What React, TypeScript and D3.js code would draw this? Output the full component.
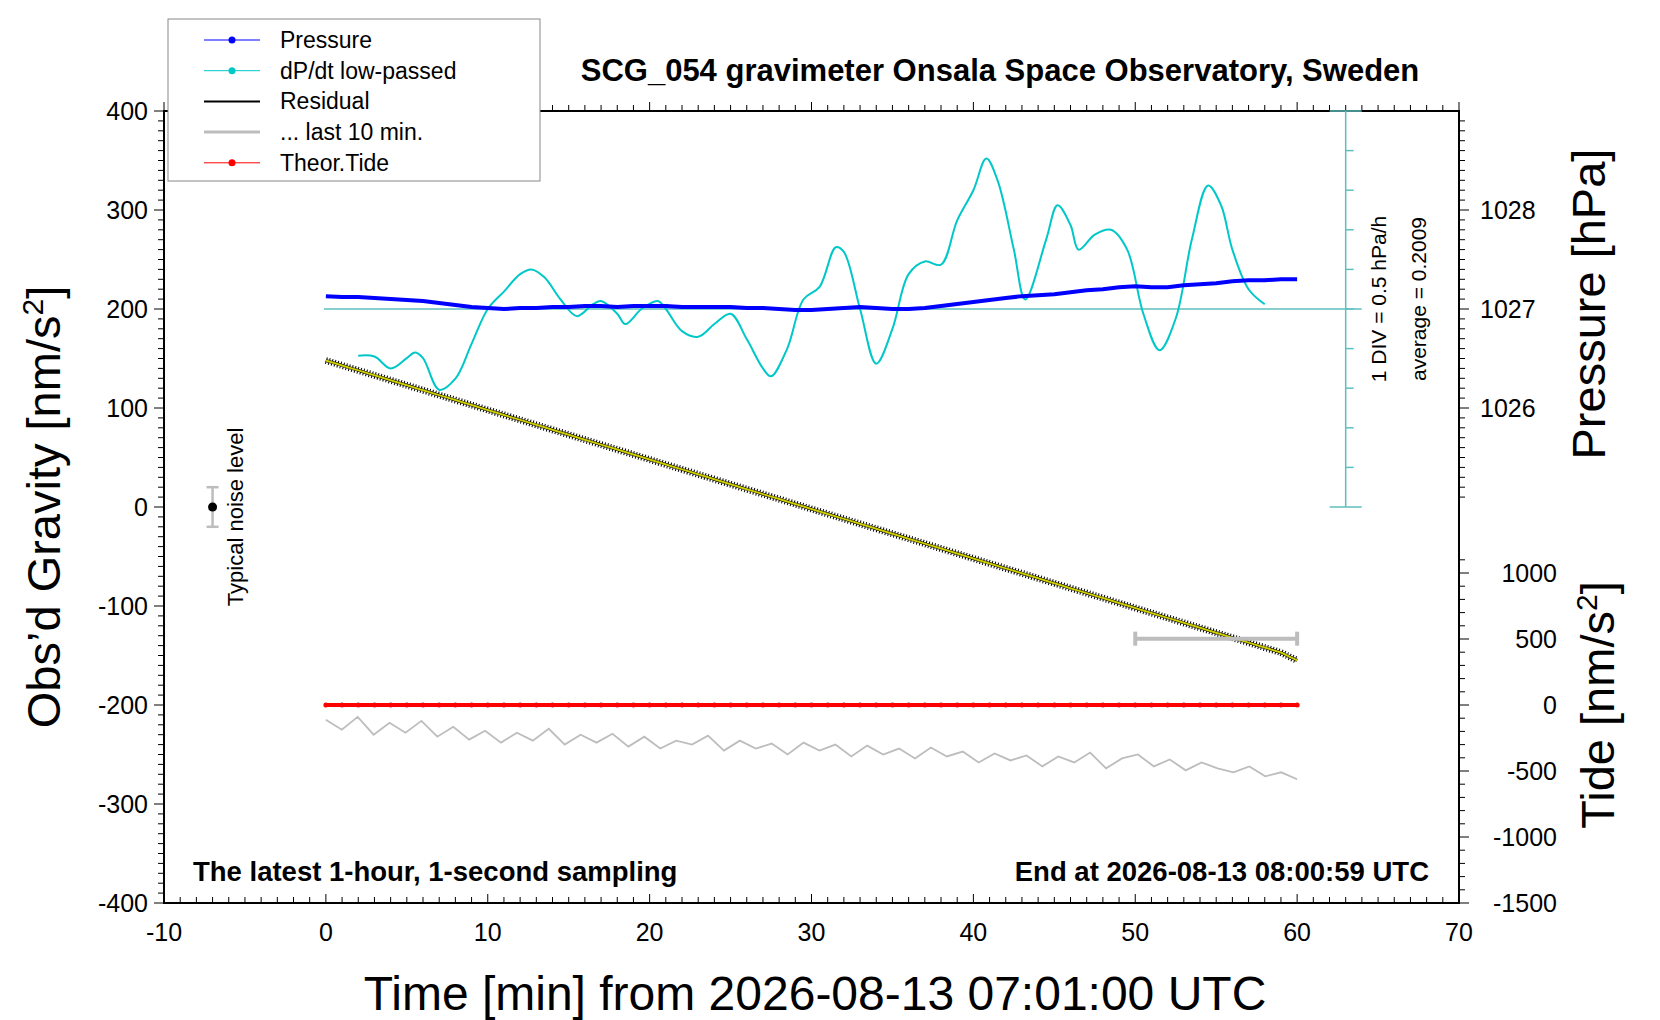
import React from "react";
import * as d3 from "d3";

// --- data ---
const minutes = d3.range(0, 61);
const residual = [148, 143, 138, 133, 128, 123, 118, 113, 108, 103, 98, 93, 88, 83, 78, 73, 68, 63, 58, 53, 48, 43, 38, 33, 28, 23, 18, 13, 8, 3, -2, -7, -12, -17, -22, -27, -32, -37, -42, -47, -52, -57, -62, -67, -72, -77, -82, -87, -92, -97, -102, -107, -112, -117, -122, -127, -132, -137, -142, -147, -155];
const pressure = [1027.13, 1027.12, 1027.12, 1027.11, 1027.1, 1027.09, 1027.08, 1027.06, 1027.04, 1027.02, 1027.01, 1027.0, 1027.01, 1027.01, 1027.02, 1027.02, 1027.03, 1027.03, 1027.02, 1027.03, 1027.03, 1027.03, 1027.02, 1027.02, 1027.02, 1027.02, 1027.01, 1027.01, 1027.0, 1026.99, 1026.99, 1027.0, 1027.01, 1027.02, 1027.01, 1027.0, 1027.0, 1027.01, 1027.03, 1027.05, 1027.07, 1027.09, 1027.11, 1027.13, 1027.14, 1027.15, 1027.17, 1027.19, 1027.2, 1027.22, 1027.23, 1027.22, 1027.22, 1027.24, 1027.25, 1027.26, 1027.28, 1027.29, 1027.29, 1027.3, 1027.3];
const dpdtAverage = 0.2009;
const dpdtTime = [2, 3, 4, 5, 5.5, 6, 7, 8, 9, 10, 11, 12, 12.7, 13.5, 14.5, 15.5, 16.5, 17, 18, 18.5, 19.5, 20.5, 21, 22, 23, 24, 25, 26, 27, 27.5, 28.5, 29.5, 30.5, 31.5, 32, 33, 34, 35, 36, 37, 38, 39, 40, 40.8, 41.5, 42.5, 43.2, 44.5, 45.2, 46, 46.5, 47.5, 48.5, 49.5, 50.5, 51.5, 52.5, 53.5, 54.5, 55.3, 56, 57, 58];
const dpdtDev = [-0.59, -0.6, -0.75, -0.62, -0.55, -0.62, -1.02, -0.88, -0.44, 0, 0.22, 0.44, 0.5, 0.4, 0.12, -0.09, 0.06, 0.1, -0.06, -0.19, 0, 0.1, 0, -0.28, -0.35, -0.19, -0.06, -0.38, -0.75, -0.85, -0.5, 0.12, 0.28, 0.78, 0.72, 0, -0.69, -0.25, 0.44, 0.6, 0.56, 1.12, 1.5, 1.9, 1.62, 0.75, 0.12, 0.88, 1.31, 1.06, 0.75, 0.94, 1.0, 0.75, -0.06, -0.52, -0.12, 0.88, 1.56, 1.31, 0.75, 0.25, 0.06];
const lastTenGrav = [-215, -225, -212, -230, -218, -228, -216, -232, -222, -235, -226, -238, -228, -236, -224, -240, -230, -238, -229, -242, -232, -244, -236, -240, -231, -246, -236, -244, -239, -250, -238, -246, -240, -252, -241, -250, -244, -254, -243, -252, -247, -258, -249, -256, -251, -262, -252, -258, -248, -264, -254, -250, -262, -255, -266, -258, -264, -268, -262, -272, -268, -275];
const lastTenTime = d3.range(0, 61, 60 / (lastTenGrav.length - 1));
const tide = minutes.map(() => 0);
const noiseLevel = { t: -7, g: 0, err: 20 };
const lastTenBar = { from: 50, to: 60, g: -133 };

const xTicks = d3.range(-10, 71, 10);
const gravTicks = d3.range(-400, 401, 100);
const pressTicks = [1026, 1027, 1028];
const tideTicks = [-1500, -1000, -500, 0, 500, 1000];

const W = 1660, H = 1020;
const L = 164, R = 1459, T = 111, B = 903;
const FONT = "Helvetica, 'Liberation Sans', Arial, sans-serif";

export default function App() {
  const x = d3.scaleLinear().domain([-10, 70]).range([L, R]);
  const yG = d3.scaleLinear().domain([-400, 400]).range([B, T]);
  const yP = d3.scaleLinear().domain([1026, 1028]).range([yG(100), yG(300)]);
  const yT = d3.scaleLinear().domain([-1500, 0]).range([B, yG(-200)]);
  const yD = d3.scaleLinear().domain([dpdtAverage - 2.5, dpdtAverage + 2.5]).range([yG(0), yG(400)]);
  const line = d3.line<[number, number]>().x((d) => x(d[0])).y((d) => d[1]);
  const dpX = x(63);

  const resPath = line(minutes.map((m, i) => [m, yG(residual[i])]));
  const lbl = { fontFamily: FONT, fontSize: 25, fill: "#000" };

  return (
    <svg width={W} height={H} style={{ position: "absolute", left: 0, top: 0, background: "#fff" }}>
      <rect x={L} y={T} width={R - L} height={B - T} fill="none" stroke="#000" strokeWidth={2} />
      {d3.range(-10, 71, 1).map((t) => (
        <g key={"xt" + t}>
          <line x1={x(t)} x2={x(t)} y1={B} y2={B - (t % 10 === 0 ? 9 : 6)} stroke="#000" />
          <line x1={x(t)} x2={x(t)} y1={T} y2={T - (t % 10 === 0 ? 9 : 6)} stroke="#000" />
        </g>
      ))}
      {xTicks.map((t) => (
        <text key={"xl" + t} x={x(t)} y={B + 38} textAnchor="middle" {...lbl}>{t}</text>
      ))}
      {d3.range(-400, 401, 10).map((g) => (
        <line key={"gt" + g} x1={L} x2={L - (g % 100 === 0 ? 10 : 6)} y1={yG(g)} y2={yG(g)} stroke="#000" />
      ))}
      {gravTicks.map((g) => (
        <text key={"gl" + g} x={L - 16} y={yG(g) + 9} textAnchor="end" {...lbl}>{g}</text>
      ))}
      {d3.range(1025.1, 1028.95, 0.1).map((p) => {
        const major = Math.abs(p - Math.round(p)) < 0.01;
        return <line key={"pt" + p.toFixed(1)} x1={R} x2={R + (major ? 10 : 6)} y1={yP(p)} y2={yP(p)} stroke="#000" />;
      })}
      {pressTicks.map((p) => (
        <text key={"pl" + p} x={R + 21} y={yP(p) + 9} {...lbl}>{p}</text>
      ))}
      {d3.range(-1500, 1101, 100).map((v) => (
        <line key={"tt" + v} x1={R} x2={R + (v % 500 === 0 ? 10 : 6)} y1={yT(v)} y2={yT(v)} stroke="#000" />
      ))}
      {tideTicks.map((v) => (
        <text key={"tl" + v} x={R + 98} y={yT(v) + 9} textAnchor="end" {...lbl}>{v}</text>
      ))}

      {/* dP/dt scale */}
      <line x1={L + 160} x2={dpX + 16} y1={yD(dpdtAverage)} y2={yD(dpdtAverage)} stroke="#5fbfbf" strokeWidth={1.5} />
      <line x1={dpX} x2={dpX} y1={yD(dpdtAverage - 2.5)} y2={yD(dpdtAverage + 2.5)} stroke="#5fbfbf" strokeWidth={1.5} />
      {d3.range(-5, 6).map((k) => (
        <line key={"dt" + k} x1={Math.abs(k) === 5 ? dpX - 16 : dpX} x2={dpX + (Math.abs(k) === 5 ? 16 : 8)}
          y1={yD(dpdtAverage + k * 0.5)} y2={yD(dpdtAverage + k * 0.5)} stroke="#5fbfbf" strokeWidth={1.5} />
      ))}
      <text transform={`translate(${dpX + 40},${yD(dpdtAverage) - 10}) rotate(-90)`} textAnchor="middle" fontFamily={FONT} fontSize={21}>1 DIV = 0.5 hPa/h</text>
      <text transform={`translate(${dpX + 80},${yD(dpdtAverage) - 10}) rotate(-90)`} textAnchor="middle" fontFamily={FONT} fontSize={21}>average = 0.2009</text>

      {/* tide */}
      <path d={line(minutes.map((m, i) => [m, yT(tide[i])]))!} fill="none" stroke="#ff0000" strokeWidth={4} />
      {minutes.map((m, i) => <circle key={"td" + m} cx={x(m)} cy={yT(tide[i])} r={2.5} fill="#ff0000" />)}

      <path d={line(lastTenTime.map((t, i) => [t, yG(lastTenGrav[i])]))!} fill="none" stroke="#bdbdbd" strokeWidth={1.8} />

      {/* residual */}
      <path d={resPath!} fill="none" stroke="#000" strokeWidth={7} strokeDasharray="1 2" />
      <path d={resPath!} fill="none" stroke="#000" strokeWidth={3} />
      <path d={resPath!} fill="none" stroke="#cccc00" strokeWidth={2} />

      <path d={d3.line<number>().x((t) => x(t)).y((t, i) => yD(dpdtAverage + dpdtDev[i])).curve(d3.curveCatmullRom)(dpdtTime)!}
        fill="none" stroke="#00c8c8" strokeWidth={2} />

      <path d={line(minutes.map((m, i) => [m, yP(pressure[i])]))!} fill="none" stroke="#0000ff" strokeWidth={4} />

      <g stroke="#bdbdbd" strokeWidth={4}>
        <line x1={x(lastTenBar.from)} x2={x(lastTenBar.to)} y1={yG(lastTenBar.g)} y2={yG(lastTenBar.g)} />
        <line x1={x(lastTenBar.from)} x2={x(lastTenBar.from)} y1={yG(lastTenBar.g) - 7} y2={yG(lastTenBar.g) + 7} />
        <line x1={x(lastTenBar.to)} x2={x(lastTenBar.to)} y1={yG(lastTenBar.g) - 7} y2={yG(lastTenBar.g) + 7} />
      </g>

      <g stroke="#bdbdbd" strokeWidth={2.5}>
        <line x1={x(noiseLevel.t)} x2={x(noiseLevel.t)} y1={yG(noiseLevel.g - noiseLevel.err)} y2={yG(noiseLevel.g + noiseLevel.err)} />
        <line x1={x(noiseLevel.t) - 6} x2={x(noiseLevel.t) + 6} y1={yG(noiseLevel.err)} y2={yG(noiseLevel.err)} />
        <line x1={x(noiseLevel.t) - 6} x2={x(noiseLevel.t) + 6} y1={yG(-noiseLevel.err)} y2={yG(-noiseLevel.err)} />
      </g>
      <circle cx={x(noiseLevel.t)} cy={yG(noiseLevel.g)} r={4.5} fill="#000" />
      <text transform={`translate(${x(noiseLevel.t) + 30},${yG(-10)}) rotate(-90)`} textAnchor="middle" fontFamily={FONT} fontSize={22}>Typical noise level</text>

      <text x={193} y={B - 22} fontFamily={FONT} fontSize={27.5} fontWeight="bold">The latest 1-hour, 1-second sampling</text>
      <text x={R - 30} y={B - 22} textAnchor="end" fontFamily={FONT} fontSize={27.5} fontWeight="bold">End at 2026-08-13 08:00:59 UTC</text>
      <text x={1000} y={81} textAnchor="middle" fontFamily={FONT} fontSize={31} fontWeight="bold">SCG_054 gravimeter Onsala Space Observatory, Sweden</text>

      <text x={815} y={1010} textAnchor="middle" fontFamily={FONT} fontSize={48}>Time [min] from 2026-08-13 07:01:00 UTC</text>
      <text transform={`translate(60,${yG(0)}) rotate(-90)`} textAnchor="middle" fontFamily={FONT} fontSize={47}>
        Obs’d Gravity [nm/s<tspan dy={-17} fontSize={30}>2</tspan><tspan dy={17}>]</tspan>
      </text>
      <text transform={`translate(1605,${yP(1027.05)}) rotate(-90)`} textAnchor="middle" fontFamily={FONT} fontSize={47}>Pressure [hPa]</text>
      <text transform={`translate(1614,${yT(0)}) rotate(-90)`} textAnchor="middle" fontFamily={FONT} fontSize={47}>
        Tide [nm/s<tspan dy={-17} fontSize={30}>2</tspan><tspan dy={17}>]</tspan>
      </text>

      {/* legend */}
      <rect x={168} y={19} width={372} height={162} fill="#fff" stroke="#888" strokeWidth={1} />
      {[
        { name: "Pressure", color: "#0000ff", w: 1, dot: true },
        { name: "dP/dt low-passed", color: "#00c8c8", w: 1, dot: true },
        { name: "Residual", color: "#000", w: 2, dot: false },
        { name: "... last 10 min.", color: "#bdbdbd", w: 3, dot: false },
        { name: "Theor.Tide", color: "#ff0000", w: 1, dot: true },
      ].map((e, i) => {
        const y = 40 + i * 30.7;
        return (
          <g key={e.name}>
            <line x1={204} x2={260} y1={y} y2={y} stroke={e.color} strokeWidth={e.w} />
            {e.dot && <circle cx={232} cy={y} r={3.5} fill={e.color} />}
            <text x={280} y={y + 8} fontFamily={FONT} fontSize={23}>{e.name}</text>
          </g>
        );
      })}
    </svg>
  );
}
